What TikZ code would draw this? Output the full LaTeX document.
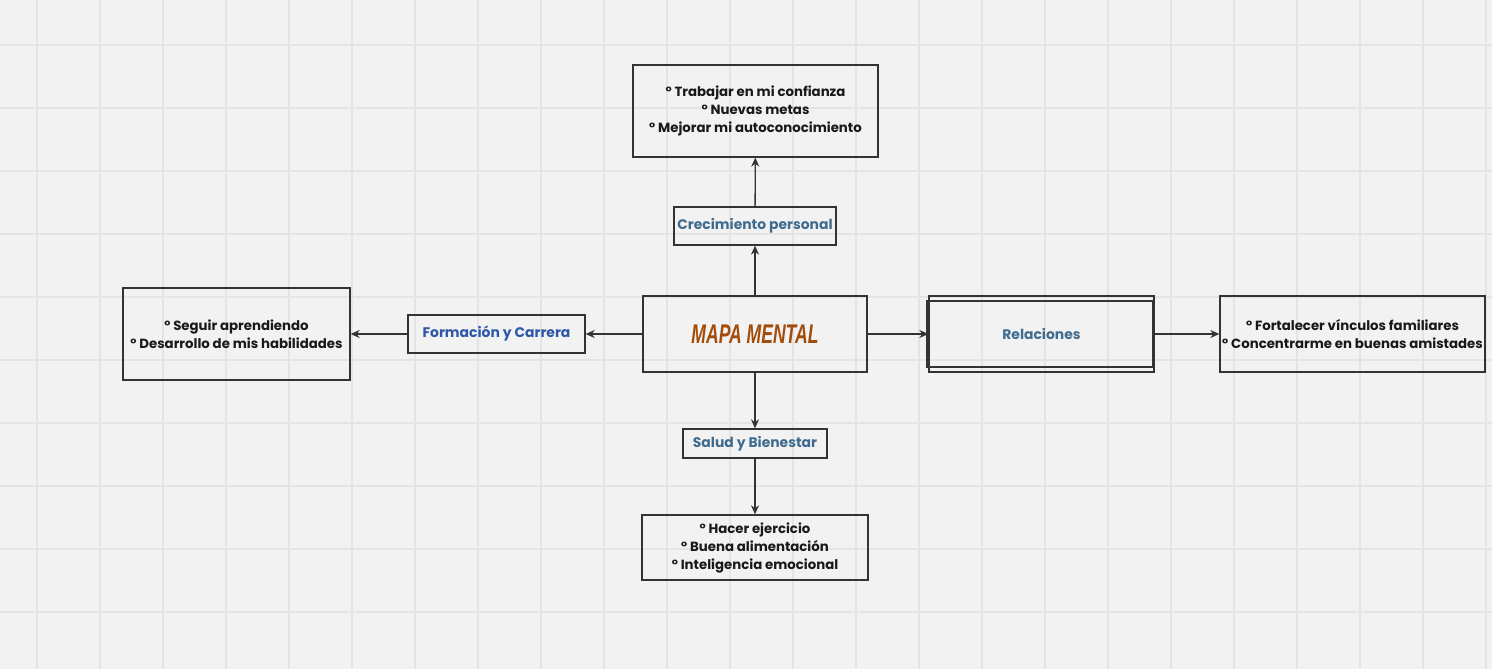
\documentclass[tikz,border=0pt]{standalone}
\usepackage{fontspec}
\setmainfont{Poppins}
\newfontfamily\titlefont[FakeStretch=0.65]{Liberation Sans}
\usetikzlibrary{arrows.meta}
\definecolor{fondo}{HTML}{F2F2F2}
\definecolor{rejilla}{HTML}{E4E4E4}
\definecolor{linea}{HTML}{333333}
\definecolor{marron}{HTML}{A34B08}
\definecolor{azulgris}{HTML}{3F6C8E}
\definecolor{azul}{HTML}{2F57A8}
\tikzset{
  caja/.style={draw=linea, line width=1.3pt, align=center, inner sep=0pt,
    font=\fontsize{13.3}{18}\selectfont\bfseries, text=black!90},
  tema/.style={caja, font=\fontsize{13.9}{18}\selectfont\bfseries, text=azulgris},
  flecha/.style={draw=linea, line width=1.3pt, -{Stealth[length=9pt,width=8pt]}}
}
\begin{document}
\begin{tikzpicture}[x=1pt,y=-1pt]
\useasboundingbox (0,0) rectangle (1492,669);
\fill[fondo] (0,0) rectangle (1492,669);
% rejilla
\foreach \gx in {37,100,...,1492}
  \draw[rejilla, line width=1.1pt] (\gx,0) -- (\gx,669);
\foreach \gy in {45,108,...,669}
  \draw[rejilla, line width=1.1pt] (0,\gy) -- (1492,\gy);

% centro
\node[caja, minimum width=224pt, minimum height=76pt] (centro) at (755,334)
  {\titlefont\bfseries\itshape\fontsize{27}{28}\selectfont\color{marron}MAPA MENTAL};

% arriba
\node[tema, minimum width=162pt, minimum height=38pt] (crec) at (755,226) {Crecimiento personal};
\node[caja, minimum width=245pt, minimum height=92pt] (metas) at (755.5,111)
  {° Trabajar en mi confianza\\ ° Nuevas metas\\ ° Mejorar mi autoconocimiento};

% izquierda
\node[tema, text=azul, minimum width=177pt, minimum height=38pt] (form) at (496.5,334) {Formación y Carrera};
\node[caja, minimum width=227pt, minimum height=92pt] (aprende) at (236.5,334)
  {° Seguir aprendiendo\\ ° Desarrollo de mis habilidades};

% derecha
\node[tema, minimum width=225pt, minimum height=76pt] (rel) at (1041.5,334) {Relaciones};
\draw[linea, line width=1.3pt] (927,301) rectangle (1153,367);
\node[caja, minimum width=265pt, minimum height=76pt] (vinculos) at (1352.5,334)
  {° Fortalecer vínculos familiares\\ ° Concentrarme en buenas amistades};

% abajo
\node[tema, minimum width=144pt, minimum height=29pt] (salud) at (755,443.5) {Salud y Bienestar};
\node[caja, minimum width=226pt, minimum height=65pt] (habitos) at (755,547.5)
  {° Hacer ejercicio\\ ° Buena alimentación\\ ° Inteligencia emocional};

% flechas
\draw[flecha] (centro) -- (crec);
\draw[flecha] (crec) -- (metas);
\draw[flecha] (centro) -- (form);
\draw[flecha] (form) -- (aprende);
\draw[flecha] (centro) -- (rel);
\draw[flecha] (rel) -- (vinculos);
\draw[flecha] (centro) -- (salud);
\draw[flecha] (salud) -- (habitos);
\end{tikzpicture}
\end{document}
